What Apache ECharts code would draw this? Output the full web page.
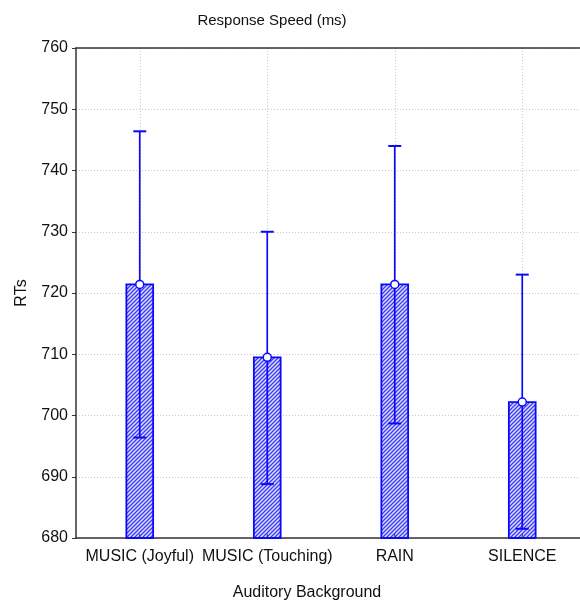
<!DOCTYPE html>
<html>
<head>
<meta charset="utf-8">
<script src="https://cdn.jsdelivr.net/npm/echarts@6/dist/echarts.min.js"></script>
<style>
html,body{margin:0;padding:0;background:#fff;}
#chart{width:580px;height:602px;}
</style>
</head>
<body>
<div id="chart"></div>
<script>
const categories = ['MUSIC (Joyful)', 'MUSIC (Touching)', 'RAIN', 'SILENCE'];
const means = [721.4, 709.5, 721.4, 702.2];
const lowerCI = [696.4, 688.8, 698.7, 681.5];
const upperCI = [746.4, 730.0, 744.0, 723.0];
const yMin = 680, yMax = 760, yStep = 10;

const FONT = "'Liberation Sans', Arial, sans-serif";
const BLUE = '#0a0af8';

// hatch pattern
const pc = document.createElement('canvas');
pc.width = 4; pc.height = 4;
const g = pc.getContext('2d');
g.fillStyle = '#dcdcfa';
g.fillRect(0, 0, 4, 4);
g.strokeStyle = '#3c3cf0';
g.lineWidth = 1.3;
g.beginPath();
g.moveTo(-1, 1); g.lineTo(1, -1);
g.moveTo(0, 4); g.lineTo(4, 0);
g.moveTo(3, 5); g.lineTo(5, 3);
g.stroke();

const data = categories.map((c, i) => [i, means[i], lowerCI[i], upperCI[i]]);

const chart = echarts.init(document.getElementById('chart'), null, {renderer: 'canvas'});

chart.setOption({
  animation: false,
  backgroundColor: '#ffffff',
  grid: {left: 76, top: 48, width: 510, height: 490, containLabel: false, outerBoundsMode: 'none'},
  graphic: [
    {type: 'text', x: 272, y: 21, style: {text: 'Response Speed (ms)', font: '15px ' + FONT, fill: '#111', textAlign: 'center', textVerticalAlign: 'middle'}},
    {type: 'text', x: 307, y: 593, style: {text: 'Auditory Background', font: '16px ' + FONT, fill: '#111', textAlign: 'center', textVerticalAlign: 'middle'}}
  ],
  xAxis: [{
    type: 'category',
    data: categories,
    axisLine: {show: true, lineStyle: {color: '#333', width: 1.5}},
    axisTick: {show: true, inside: true, alignWithLabel: true, length: 4, lineStyle: {color: '#333'}},
    axisLabel: {color: '#111', fontSize: 16, fontFamily: FONT, margin: 11, interval: 0},
    splitLine: {show: true, alignWithLabel: true, lineStyle: {color: '#c8c8c8', type: [1, 2], width: 1}}
  }, {
    type: 'category',
    data: categories,
    position: 'top',
    axisLine: {show: true, lineStyle: {color: '#333', width: 1.5}},
    axisTick: {show: false},
    axisLabel: {show: false},
    splitLine: {show: false}
  }],
  yAxis: {
    type: 'value',
    min: yMin, max: yMax, interval: yStep,
    name: 'RTs',
    nameLocation: 'middle',
    nameGap: 46,
    nameRotate: 90,
    nameTextStyle: {color: '#111', fontSize: 16, fontFamily: FONT},
    axisLine: {show: true, lineStyle: {color: '#333', width: 1.5}},
    axisTick: {show: true, inside: false, length: 4, lineStyle: {color: '#333'}},
    axisLabel: {color: '#111', fontSize: 16, fontFamily: FONT, margin: 8},
    splitLine: {show: true, lineStyle: {color: '#c8c8c8', type: [1, 2], width: 1}}
  },
  series: [{
    type: 'custom',
    xAxisIndex: 0,
    encode: {x: 0, y: [1, 2, 3]},
    data: data,
    clip: false,
    renderItem: function (params, api) {
      const x = api.value(0);
      const m = api.value(1), lo = api.value(2), hi = api.value(3);
      const pM = api.coord([x, m]);
      const pB = api.coord([x, yMin]);
      const pL = api.coord([x, lo]);
      const pH = api.coord([x, hi]);
      const band = api.size([1, 0])[0];
      const bw = band * 0.21;
      const cap = 6.5;
      return {
        type: 'group',
        children: [
          {type: 'rect', shape: {x: pM[0] - bw / 2, y: pM[1], width: bw, height: pB[1] - pM[1]},
            style: {fill: {image: pc, repeat: 'repeat'}, stroke: BLUE, lineWidth: 1.8}},
          {type: 'line', shape: {x1: pB[0], y1: pB[1], x2: pB[0], y2: pB[1] - 4}, style: {stroke: '#333', lineWidth: 1}},
          {type: 'line', shape: {x1: pL[0], y1: pL[1], x2: pH[0], y2: pH[1]}, style: {stroke: BLUE, lineWidth: 1.7}},
          {type: 'line', shape: {x1: pL[0] - cap, y1: pL[1], x2: pL[0] + cap, y2: pL[1]}, style: {stroke: BLUE, lineWidth: 2}},
          {type: 'line', shape: {x1: pH[0] - cap, y1: pH[1], x2: pH[0] + cap, y2: pH[1]}, style: {stroke: BLUE, lineWidth: 2}},
          {type: 'circle', shape: {cx: pM[0], cy: pM[1], r: 4}, style: {fill: '#fff', stroke: BLUE, lineWidth: 1.5}}
        ]
      };
    }
  }]
});
</script>
</body>
</html>
